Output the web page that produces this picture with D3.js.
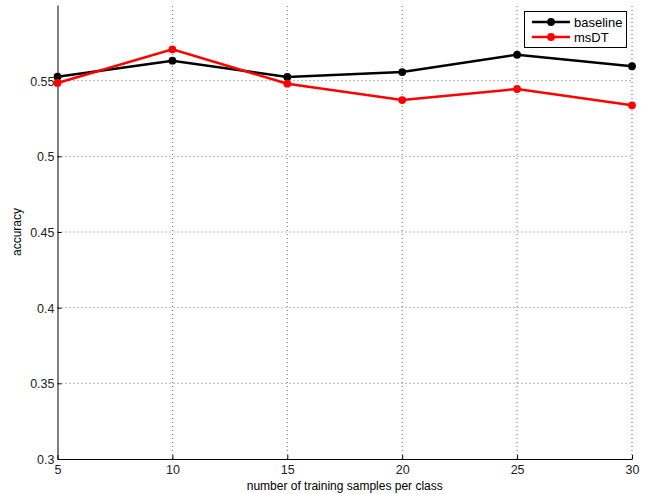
<!DOCTYPE html>
<html>
<head>
<meta charset="utf-8">
<script src="https://d3js.org/d3.v7.min.js"></script>
<style>
  body { margin: 0; background: #fff; }
  text { font-family: "Liberation Sans", Arial, sans-serif; }
</style>
</head>
<body>
<div id="chart"></div>
<script>
// chart data
var samples = [5, 10, 15, 20, 25, 30];
var baseline = [0.5526, 0.5632, 0.5525, 0.5557, 0.5672, 0.5596];
var msDT = [0.5485, 0.5707, 0.5480, 0.5372, 0.5445, 0.5337];
var xTicks = [5, 10, 15, 20, 25, 30];
var yTicks = [0.3, 0.35, 0.4, 0.45, 0.5, 0.55];

var width = 652, height = 494;
var margin = { left: 57.5, right: 20, top: 5, bottom: 35 };

var svg = d3.select("#chart").append("svg")
    .attr("width", width)
    .attr("height", height);

var x = d3.scaleLinear().domain([5, 30]).range([margin.left, width - margin.right]);
var y = d3.scaleLinear().domain([0.3, 0.6]).range([height - margin.bottom, margin.top]);

// grid
var grid = svg.append("g");
grid.selectAll(".gx").data(xTicks.slice(1)).enter().append("line")
    .attr("x1", function (d) { return x(d); })
    .attr("x2", function (d) { return x(d); })
    .attr("y1", y(0.3)).attr("y2", y(0.6))
    .attr("stroke", "#666").attr("stroke-width", 1)
    .attr("stroke-dasharray", "1,3");
grid.selectAll(".gy").data(yTicks.slice(1)).enter().append("line")
    .attr("y1", function (d) { return y(d); })
    .attr("y2", function (d) { return y(d); })
    .attr("x1", x(5)).attr("x2", x(30))
    .attr("stroke", "#666").attr("stroke-width", 1)
    .attr("stroke-dasharray", "1,3");

// axes
var xAxis = svg.append("g")
    .attr("transform", "translate(0," + y(0.3) + ")")
    .call(d3.axisBottom(x).tickValues(xTicks).tickSizeInner(-4).tickSizeOuter(0).tickPadding(7));
var yAxis = svg.append("g")
    .attr("transform", "translate(" + x(5) + ",0)")
    .call(d3.axisLeft(y).tickValues(yTicks).tickFormat(d3.format("")).tickSizeInner(-4).tickSizeOuter(0).tickPadding(3));

[xAxis, yAxis].forEach(function (a) {
    a.selectAll("text").style("font-size", "12.5px").attr("fill", "#222");
    a.select(".domain").attr("stroke", "#000");
});
xAxis.selectAll("text").attr("dy", "0.6em");
yAxis.selectAll("text").attr("dy", "0.35em");

// series
var series = [
    { name: "baseline", values: baseline, color: "#000" },
    { name: "msDT", values: msDT, color: "#ff0000" }
];
var line = d3.line()
    .x(function (d, i) { return x(samples[i]); })
    .y(function (d) { return y(d); });

series.forEach(function (s) {
    svg.append("path")
        .datum(s.values)
        .attr("d", line)
        .attr("fill", "none")
        .attr("stroke", s.color)
        .attr("stroke-width", 2.5);
    svg.selectAll(null).data(s.values).enter().append("circle")
        .attr("cx", function (d, i) { return x(samples[i]); })
        .attr("cy", function (d) { return y(d); })
        .attr("r", 3.9)
        .attr("fill", s.color);
});

// labels
svg.append("text")
    .attr("x", (x(5) + x(30)) / 2)
    .attr("y", 490)
    .attr("text-anchor", "middle")
    .style("font-size", "12px")
    .text("number of training samples per class");
svg.append("text")
    .attr("transform", "translate(21," + y(0.45) + ") rotate(-90)")
    .attr("text-anchor", "middle")
    .style("font-size", "12px")
    .text("accuracy");

// legend
var legend = svg.append("g");
legend.append("rect")
    .attr("x", 524.5).attr("y", 11.5)
    .attr("width", 102).attr("height", 36)
    .attr("fill", "#fff").attr("stroke", "#000");
series.forEach(function (s, i) {
    var ly = 22 + i * 15;
    legend.append("line")
        .attr("x1", 532).attr("x2", 570)
        .attr("y1", ly).attr("y2", ly)
        .attr("stroke", s.color).attr("stroke-width", 2.5);
    legend.append("circle")
        .attr("cx", 551).attr("cy", ly).attr("r", 3.9)
        .attr("fill", s.color);
    legend.append("text")
        .attr("x", 574).attr("y", ly)
        .attr("dy", "0.35em")
        .style("font-size", "13px")
        .text(s.name);
});
</script>
</body>
</html>
